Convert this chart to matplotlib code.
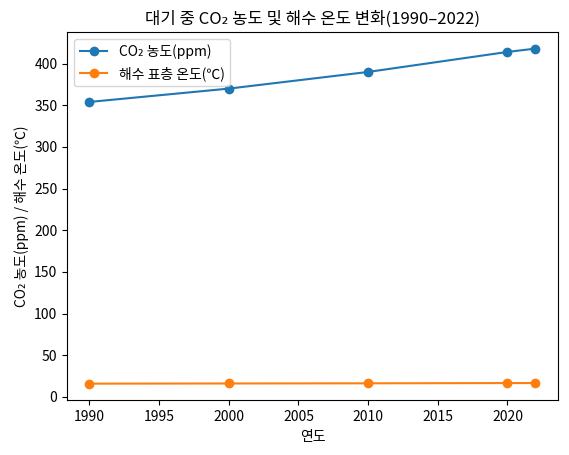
import matplotlib
matplotlib.use("Agg")
import matplotlib.pyplot as plt

plt.rcParams['font.family'] = ['Noto Sans CJK KR', 'DejaVu Sans']

years = [1990, 2000, 2010, 2020, 2022]
co2 = [354, 370, 390, 414, 418]
temp = [16.0, 16.2, 16.4, 16.7, 16.7]

fig, ax = plt.subplots(figsize=(5.69, 4.55), dpi=100)
ax.plot(years, co2, marker='o', label='CO₂ 농도(ppm)')
ax.plot(years, temp, marker='o', label='해수 표층 온도(℃)')
ax.set_title('대기 중 CO₂ 농도 및 해수 온도 변화(1990–2022)')
ax.set_xlabel('연도')
ax.set_ylabel('CO₂ 농도(ppm) / 해수 온도(℃)')
ax.legend(loc='upper left')
fig.subplots_adjust(left=0.118, right=0.98, bottom=0.12, top=0.93)
fig.savefig('out.png')
